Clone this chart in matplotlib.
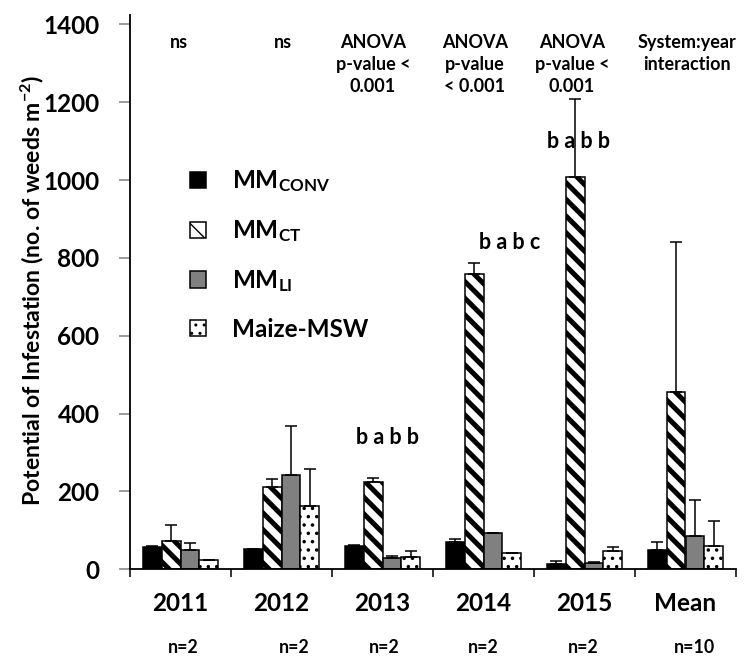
import numpy as np
import matplotlib
matplotlib.use("Agg")
import matplotlib.pyplot as plt
from matplotlib.ticker import FixedLocator, NullFormatter

plt.rcParams['font.family'] = ['Lato', 'DejaVu Sans']
plt.rcParams['font.weight'] = 'bold'
plt.rcParams['mathtext.fontset'] = 'custom'
plt.rcParams['mathtext.rm'] = 'Lato:bold'
plt.rcParams['mathtext.it'] = 'Lato:bold:italic'
plt.rcParams['mathtext.bf'] = 'Lato:bold'

# ---------------- data ----------------
categories = ['2011', '2012', '2013', '2014', '2015', 'Mean']
n_labels = ['n=2', 'n=2', 'n=2', 'n=2', 'n=2', 'n=10']

conv = [57, 51, 61, 69, 13, 50]
conv_err = [2, 2, 2, 9, 9, 19]
ct = [73, 212, 224, 758, 1008, 456]
ct_err = [40, 19, 11, 29, 201, 386]
li = [50, 241, 29, 93, 17, 86]
li_err = [18, 128, 5, 1, 3, 91]
msw = [24, 163, 31, 41, 47, 61]
msw_err = [1, 95, 17, 2, 10, 63]

series_names = [r'MM$_{\mathrm{CONV}}$', r'MM$_{\mathrm{CT}}$',
                r'MM$_{\mathrm{LI}}$', 'Maize-MSW']

top_notes = ['ns', 'ns', 'ANOVA\np-value <\n0.001', 'ANOVA\np-value\n< 0.001',
             'ANOVA\np-value <\n0.001', 'System:year\ninteraction']
letter_groups = ['b a b b', 'b a b c', 'b a b b']
letter_years = ['2013', '2014', '2015']
letter_heights = [321, 824, 1082]

# ---------------- figure ----------------
fig = plt.figure(figsize=(7.47, 6.59), dpi=100)
ax = fig.add_axes([130/747, 1 - 569.3/659, 606/747, (569.3 - 15)/659])

x = np.arange(len(categories))
w = 0.185
offsets = [-1.5 * w, -0.5 * w, 0.5 * w, 1.5 * w]
styles = [dict(color='black', hatch=None),
          dict(color='white', hatch='\\\\'),
          dict(color='#808080', hatch=None),
          dict(color='white', hatch='..')]
hatch_lw = [1.0, 3.6, 1.0, 1.3]
vals = [conv, ct, li, msw]
errs = [conv_err, ct_err, li_err, msw_err]

handles = []
for i in range(4):
    with plt.rc_context({'hatch.linewidth': hatch_lw[i]}):
        bars = ax.bar(x + offsets[i], vals[i], w, color=styles[i]['color'],
                      edgecolor='black', linewidth=1.1, hatch=styles[i]['hatch'],
                      yerr=[np.zeros(len(errs[i])), errs[i]],
                      error_kw=dict(ecolor='black', elinewidth=1.1, capsize=4.5,
                                    capthick=1.1),
                      label=series_names[i], zorder=2)
    for p in bars.patches:
        if hasattr(p, 'set_hatch_linewidth'):
            p.set_hatch_linewidth(hatch_lw[i])
    handles.append(bars)

ax.set_xlim(-0.5, len(categories) - 0.5)
ax.set_ylim(0, 1424)
ax.set_yticks(np.arange(0, 1401, 200))
ax.tick_params(axis='y', direction='out', length=8, width=1.1, color='#808080',
               pad=14, labelsize=17.5)
ax.set_xticks(x)
ax.set_xticklabels(categories)
ax.tick_params(axis='x', which='major', length=0, pad=16, labelsize=17.5)
ax.xaxis.set_minor_locator(FixedLocator(np.arange(-0.5, len(categories), 1.0)))
ax.xaxis.set_minor_formatter(NullFormatter())
ax.tick_params(axis='x', which='minor', direction='out', length=6, width=1.1,
               color='black')
for s in ['top', 'right']:
    ax.spines[s].set_visible(False)
for s in ['left', 'bottom']:
    ax.spines[s].set_linewidth(1.3)
    ax.spines[s].set_color('black')

ax.set_ylabel(r'Potential of Infestation (no. of weeds m$^{\mathrm{-2}}$)',
              fontsize=16.6, fontweight='bold')
ax.yaxis.label.set_va('center')
ax.yaxis.set_label_coords(-0.1617, 0.503)

# top notes
note_dx = [-0.015, 0.015, -0.094, -0.084, -0.124, 0.015]
for i, t in enumerate(top_notes):
    ax.text(x[i] + note_dx[i], 1376, t, ha='center', va='top',
            fontsize=13, fontweight='bold', linespacing=1.38)

# significance letters
letter_dx = [0.05, 0.262, -0.064]
for k, t in enumerate(letter_groups):
    xi = categories.index(letter_years[k])
    ax.text(x[xi] + letter_dx[k], letter_heights[k], t, ha='center',
            va='baseline', fontsize=15.5, fontweight='bold')

# n labels
n_dx = [0.025, 0.124, 0.015, 0.0, -0.015, 0.094]
trans = ax.get_xaxis_transform()
for i, t in enumerate(n_labels):
    ax.text(x[i] + n_dx[i], -0.141, t, transform=trans, ha='center',
            va='center', fontsize=12.8, fontweight='bold')

leg = ax.legend(handles=handles, labels=series_names, loc='upper left',
                bbox_to_anchor=(0.099, 0.723), frameon=False, fontsize=17.5,
                handlelength=0.66, handleheight=0.66, handletextpad=1.08,
                labelspacing=0.98, borderpad=0, borderaxespad=0)

fig.savefig('out.png', dpi=100)
